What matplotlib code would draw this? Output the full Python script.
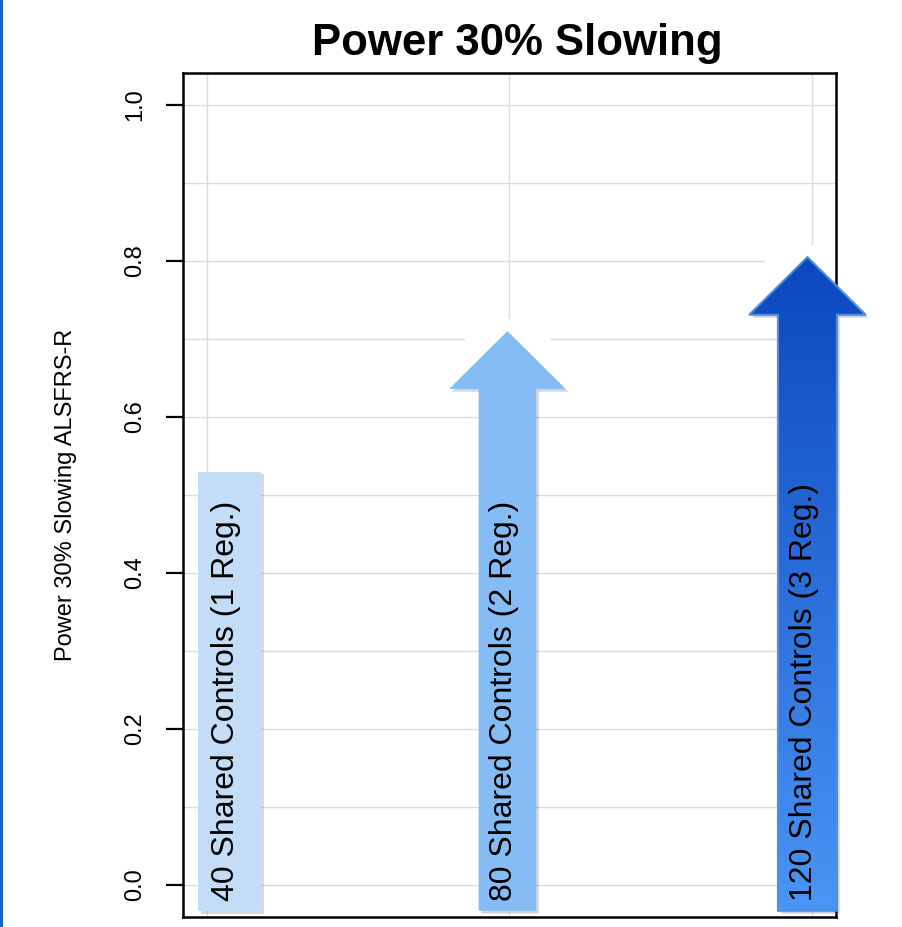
import numpy as np
import matplotlib
matplotlib.use("Agg")
import matplotlib.pyplot as plt
import matplotlib.patheffects as pe
from matplotlib.patches import Polygon, Rectangle
from matplotlib.colors import LinearSegmentedColormap

# === DATA ===
groups = ["40 Shared Controls (1 Reg.)", "80 Shared Controls (2 Reg.)", "120 Shared Controls (3 Reg.)"]
power = [0.53, 0.71, 0.805]
has_head = [False, True, True]
x_pos = [1.075, 1.993, 2.985]
y_ticks = [0.0, 0.2, 0.4, 0.6, 0.8, 1.0]

# === STYLE ===
FONT = ["Liberation Sans", "DejaVu Sans"]
NARROW = ["Liberation Sans Narrow", "Liberation Sans", "DejaVu Sans"]
bar_colors = ["#C4DDF7", "#86BCF4", None]
grad_bottom, grad_top = "#4A95F5", "#0B47BE"
bar_bottom = -0.033
shaft_w = [0.21, 0.19, 0.195]
head_w = 0.385
head_len = 0.074

fig = plt.figure(figsize=(9.02, 9.27), dpi=100)
ax = fig.add_axes([0.2029, 0.0108, 0.7239, 0.9105])
ax.set_xlim(0.9207, 3.0793)
ax.set_ylim(-0.041, 1.041)

# grid
ax.set_axisbelow(True)
ax.set_yticks(y_ticks)
ax.set_yticks(np.arange(0.1, 1.0, 0.2), minor=True)
ax.set_xticks([1, 2, 3])
ax.grid(True, which="both", color="#DCDCDC", linewidth=1)
ax.tick_params(axis="x", length=0, labelbottom=False)
ax.tick_params(axis="y", which="minor", length=0)
ax.tick_params(axis="y", which="major", length=12.5, width=1.6, pad=14)
ax.set_yticklabels([f"{v:.1f}" for v in y_ticks])
for lab in ax.get_yticklabels():
    lab.set_rotation(90)
    lab.set_va("center")
    lab.set_ha("right")
    lab.set_family(NARROW)
    lab.set_fontsize(17)
for s in ax.spines.values():
    s.set_linewidth(1.8)
    s.set_color("black")

ax.set_ylabel("Power 30% Slowing ALSFRS-R", family=NARROW, fontsize=17)
ax.yaxis.set_label_coords(-0.163, 0.5)


def arrow_verts(x, top, sw, head):
    if not head:
        return [(x - sw / 2, bar_bottom), (x + sw / 2, bar_bottom),
                (x + sw / 2, top), (x - sw / 2, top)]
    base = top - head_len
    return [(x - sw / 2, bar_bottom), (x + sw / 2, bar_bottom),
            (x + sw / 2, base), (x + head_w / 2, base), (x, top),
            (x - head_w / 2, base), (x - sw / 2, base)]


shadow = [pe.SimplePatchShadow(offset=(2, -2), alpha=0.25, rho=0.5), pe.Normal()]
cmap = LinearSegmentedColormap.from_list("blues", [grad_bottom, grad_top])

for i, (name, val) in enumerate(zip(groups, power)):
    x = x_pos[i]
    verts = arrow_verts(x, val, shaft_w[i], has_head[i])
    if has_head[i]:
        # white patch behind the tip, like the pasted picture
        ax.add_patch(Rectangle((x - 0.14, val - 0.03), 0.28, 0.045,
                               facecolor="white", edgecolor="none", zorder=1))
    base_col = bar_colors[i] if bar_colors[i] else grad_bottom
    poly = Polygon(verts, closed=True, facecolor=base_col, edgecolor="none",
                   zorder=2.9, clip_on=False)
    poly.set_path_effects(shadow)
    ax.add_patch(poly)
    if bar_colors[i] is None:
        grad = np.linspace(0, 1, 256).reshape(-1, 1)
        img = ax.imshow(grad, cmap=cmap, origin="lower", aspect="auto", zorder=3,
                        extent=[x - head_w / 2, x + head_w / 2, bar_bottom, val])
        img.set_clip_box(fig.bbox)
        img.set_clip_path(poly)
        ax.add_patch(Polygon(verts, closed=True, facecolor="none", clip_on=False,
                             edgecolor="#4F8FDF", linewidth=1.5, zorder=3.1))
    ax.text(x - 0.012, -0.02, name, rotation=90, ha="center", va="bottom",
            fontsize=23, family=FONT, color="black", zorder=4)

ax.set_xlim(0.9207, 3.0793)
ax.set_ylim(-0.041, 1.041)

fig.text(0.5737, 1 - 55 / 927, "Power 30% Slowing", ha="center", va="baseline",
         fontsize=31.5, fontweight="bold", family=FONT)

# blue edge on the left of the slide
fig.add_artist(Rectangle((0, 0), 3 / 902, 1, transform=fig.transFigure,
                         facecolor="#0F6CBD", edgecolor="none"))

fig.savefig("out.png", dpi=100)
